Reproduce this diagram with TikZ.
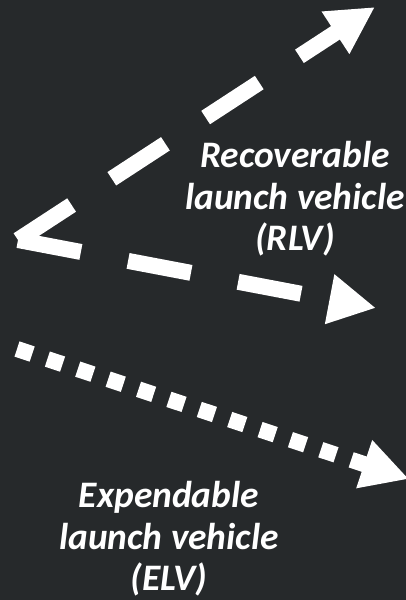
\documentclass[tikz,border=0pt]{standalone}
\usepackage{fontspec}
\setmainfont{Carlito}
\usetikzlibrary{arrows.meta}
\definecolor{slide}{RGB}{38,41,43}
\tikzset{
  flow/.style={white,line width=0.4cm,-{Triangle[length=1.18cm,width=1.18cm]}},
  dashflow/.style={flow,dash pattern=on 1.6cm off 1.2cm},
  dotflow/.style={flow,dash pattern=on 0.4cm off 0.4cm},
  caption/.style={white,align=center,font=\fontsize{26.6}{29.5}\selectfont\bfseries\itshape}
}
\begin{document}
\begin{tikzpicture}[x=0.025cm,y=-0.025cm]
\fill[slide] (0,0) rectangle (406,600);
\useasboundingbox (0,0) rectangle (406,600);
% fork of the recoverable path
\coordinate (fork) at (18,240);
\coordinate (up) at (375,7);
\coordinate (back) at (376,308);
% expendable path
\coordinate (elvstart) at (17,349);
\coordinate (elvend) at (409,479);
\draw[dashflow] (fork) -- (up);
\draw[dashflow] (fork) -- (back);
\draw[dotflow] (elvstart) -- (elvend);
\node[caption] (rlv) at (295,199) {Recoverable\\launch vehicle\\(RLV)};
\node[caption] (elv) at (169,539) {Expendable\\launch vehicle\\(ELV)};
\end{tikzpicture}
\end{document}
